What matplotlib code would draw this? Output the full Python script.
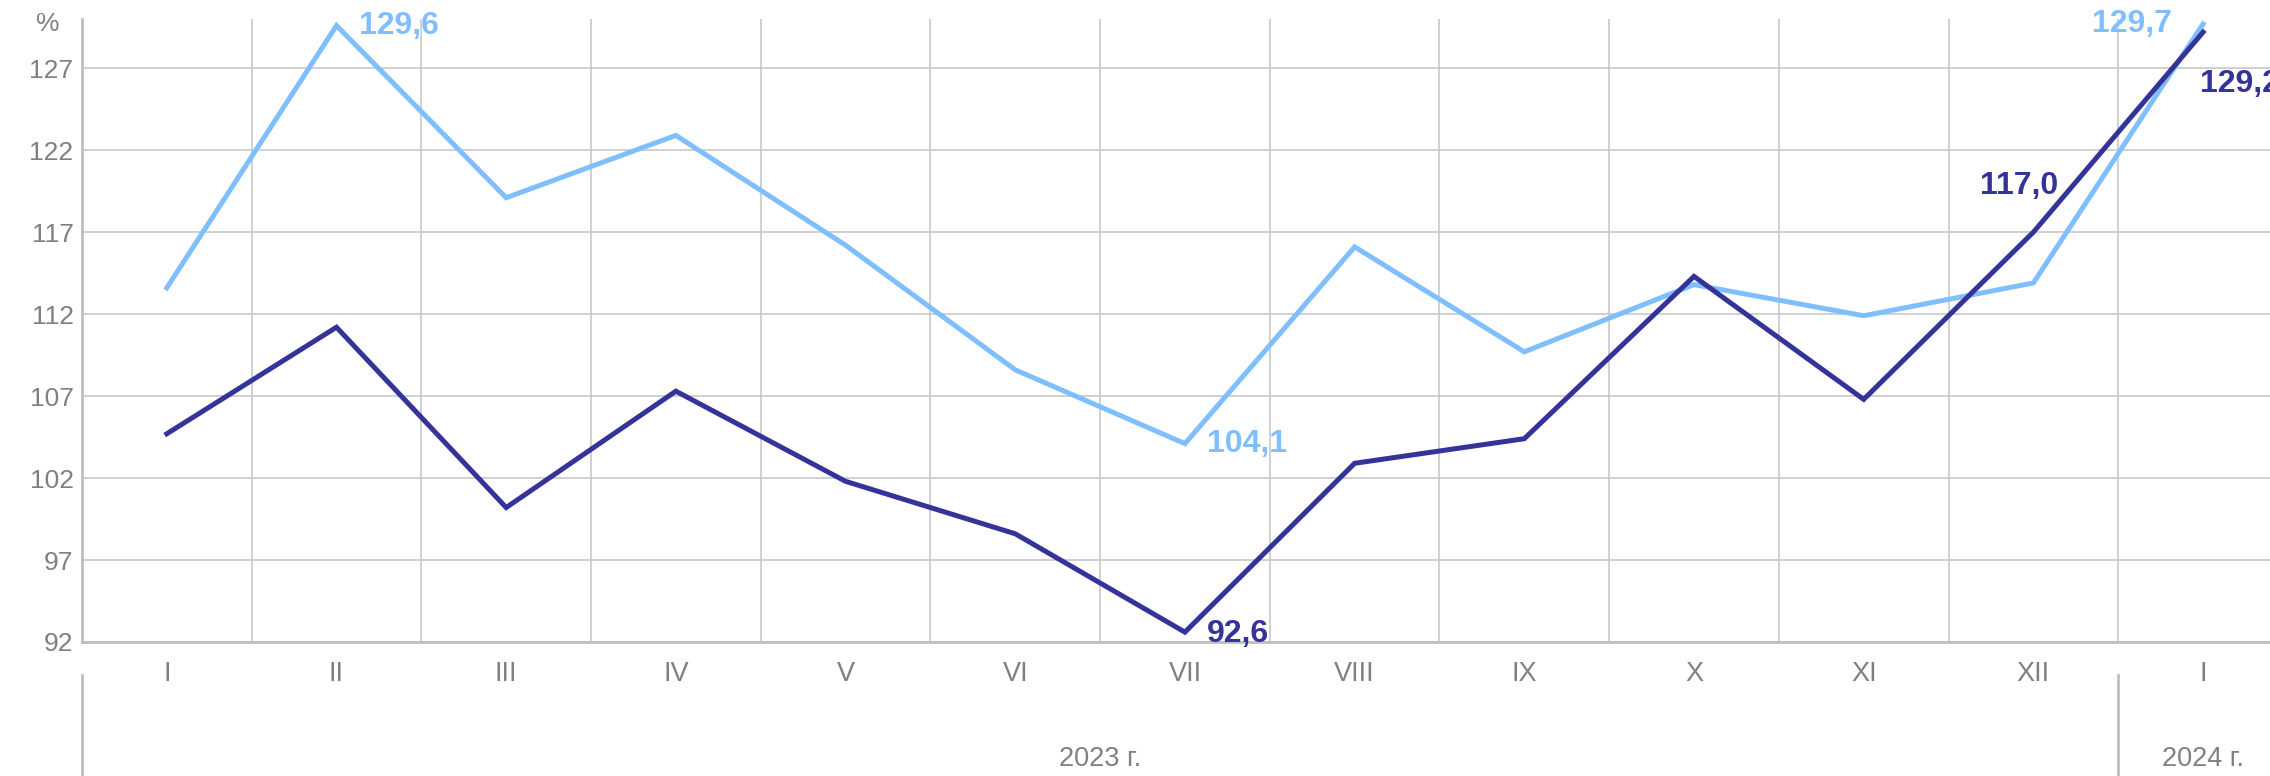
import matplotlib.pyplot as plt
import matplotlib.transforms as mtransforms

plt.rcParams['font.family'] = ['Liberation Sans', 'DejaVu Sans']

# Data (month-on-month index, %)
months = ['I', 'II', 'III', 'IV', 'V', 'VI', 'VII', 'VIII', 'IX', 'X', 'XI', 'XII', 'I']
light_vals = [113.6, 129.6, 119.1, 122.9, 116.2, 108.6, 104.1, 116.1, 109.7, 113.8, 111.9, 113.9, 129.7]
dark_vals = [104.7, 111.2, 100.2, 107.3, 101.8, 98.6, 92.6, 102.9, 104.4, 114.3, 106.8, 117.0, 129.2]
y_ticks = [92, 97, 102, 107, 112, 117, 122, 127]
years = ['2023 г.', '2024 г.']
year_spans = [(0, 12), (12, 13)]

light_col = '#80BFFF'
dark_col = '#333399'
grid_col = '#C8C8C8'
text_col = '#808080'

fig = plt.figure(figsize=(22.7, 7.76), dpi=100)
ax = fig.add_axes([0.0361, 0.1727, 0.9718, 0.8028])

x = [i + 0.5 for i in range(len(months))]
ax.plot(x, light_vals, color=light_col, lw=3.6, solid_joinstyle='miter', zorder=3)
ax.plot(x, dark_vals, color=dark_col, lw=3.6, solid_joinstyle='miter', zorder=4)

ax.set_xlim(0, len(months))
ax.set_ylim(92, 130)
ax.set_yticks(y_ticks)
ax.set_yticklabels([str(v) for v in y_ticks])
ax.set_xticks(range(len(months) + 1))
ax.set_xticklabels([])
ax.set_xticks(x, minor=True)
ax.set_xticklabels(months, minor=True)
ax.tick_params(axis='x', which='both', length=0, pad=14, labelsize=19.5, labelcolor=text_col)
ax.tick_params(axis='y', length=0, pad=6, labelsize=19, labelcolor=text_col)

ax.grid(True, which='major', color=grid_col, lw=1.2)
ax.set_axisbelow(True)
for side in ['top', 'right']:
    ax.spines[side].set_visible(False)
for side in ['left', 'bottom']:
    ax.spines[side].set_color('#BFBFBF')
    ax.spines[side].set_linewidth(2)

# value labels
def lab(i, vals, txt, col, dx, dy, ha):
    ax.annotate(txt, (x[i], vals[i]), xytext=(dx, dy), textcoords='offset pixels',
                ha=ha, va='center', fontsize=23, fontweight='bold', color=col,
                annotation_clip=False)

lab(1, light_vals, '129,6', light_col, 23, 0, 'left')
lab(6, light_vals, '104,1', light_col, 22, 0, 'left')
lab(12, light_vals, '129,7', light_col, -31, 0, 'right')
lab(6, dark_vals, '92,6', dark_col, 22, -2, 'left')
lab(11, dark_vals, '117,0', dark_col, 25, 46, 'right')
lab(12, dark_vals, '129,2', dark_col, -3, -52, 'left')

# percent sign
ax.text(-0.0154, 0.992, '%', transform=ax.transAxes, ha='center', va='center',
        fontsize=19, color=text_col)

# year labels with separators
trans = mtransforms.blended_transform_factory(ax.transData, ax.transAxes)
for name, (a, b) in zip(years, year_spans):
    ax.text((a + b) / 2, -0.188, name, transform=trans, ha='center', va='center',
            fontsize=19.5, color=text_col, clip_on=False)
for xs in [0, 12]:
    ax.plot([xs, xs], [-0.053, -0.23], transform=trans, color='#BFBFBF', lw=2,
            clip_on=False)

fig.savefig('out.png', dpi=100)
